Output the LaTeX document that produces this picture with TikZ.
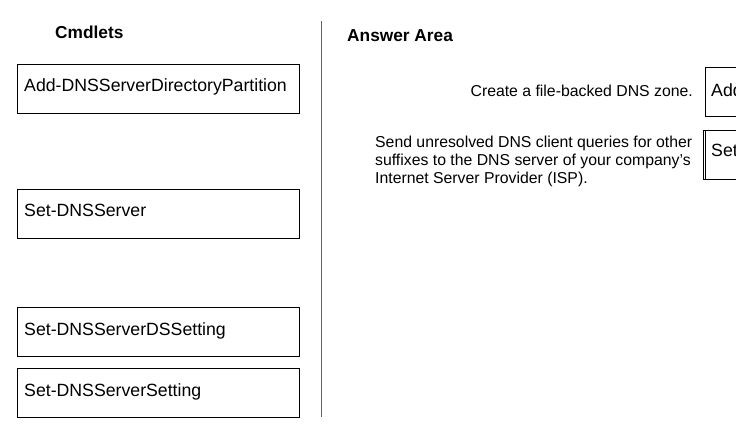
\documentclass[tikz,border=0pt]{standalone}
\usepackage{fontspec}
\setmainfont{Liberation Sans}
\usetikzlibrary{calc}
\begin{document}
\begin{tikzpicture}[x=1pt,y=-1pt,
  cbox/.style={draw=black,line width=1.1pt,rectangle,inner sep=0pt,anchor=north west,minimum width=282pt,minimum height=49pt},
  ctext/.style={anchor=base west,inner sep=0pt,font=\fontsize{17.7}{21}\selectfont},
  desc/.style={anchor=base west,inner sep=0pt,font=\fontsize{15.8}{18}\selectfont},
  descr/.style={anchor=base east,inner sep=0pt,font=\fontsize{15.8}{18}\selectfont},
  heading/.style={anchor=base west,inner sep=0pt,font=\fontsize{17.3}{20}\selectfont\bfseries}]
\useasboundingbox (0,0) rectangle (736,433);
\clip (0,0) rectangle (736,433);
% left column
\node[heading] (hcmd) at (55,38.5) {Cmdlets};
\node[cbox] (b1) at (17,64) {};
\node[ctext] (t1) at (24,92) {Add-DNSServerDirectoryPartition};
\node[cbox] (b2) at (17,189) {};
\node[ctext] (t2) at (24,216.5) {Set-DNSServer};
\node[cbox] (b3) at (17,307) {};
\node[ctext] (t3) at (24,335.5) {Set-DNSServerDSSetting};
\node[cbox] (b4) at (17,368) {};
\node[ctext] (t4) at (24,396.5) {Set-DNSServerSetting};
% separator
\coordinate (s1) at (321.5,21);
\coordinate (s2) at (321.5,417);
\draw[line width=1.4pt,draw=black!62] (s1) -- (s2);
% answer area
\node[heading] (hans) at (347,42) {Answer Area};
\node[descr] (d1) at (693,96.5) {Create a file-backed DNS zone.};
\node[desc] (d2a) at (375,147.3) {Send unresolved DNS client queries for other};
\node[desc] (d2b) at (375,165.5) {suffixes to the DNS server of your company's};
\node[desc] (d2c) at (375,183.6) {Internet Server Provider (ISP).};
\node[cbox,minimum width=60pt] (r1) at (704.5,67) {};
\node[ctext] (rt1) at (711,96.5) {Add};
\node[cbox,minimum width=60pt] (r2) at (703.3,130) {};
\coordinate (r2a) at ($(r2.north west)+(2.6,0)$);
\coordinate (r2b) at ($(r2.south west)+(2.6,0)$);
\draw[line width=1.1pt] (r2a) -- (r2b);
\node[ctext] (rt2) at (711,157) {Set};
\end{tikzpicture}
\end{document}
